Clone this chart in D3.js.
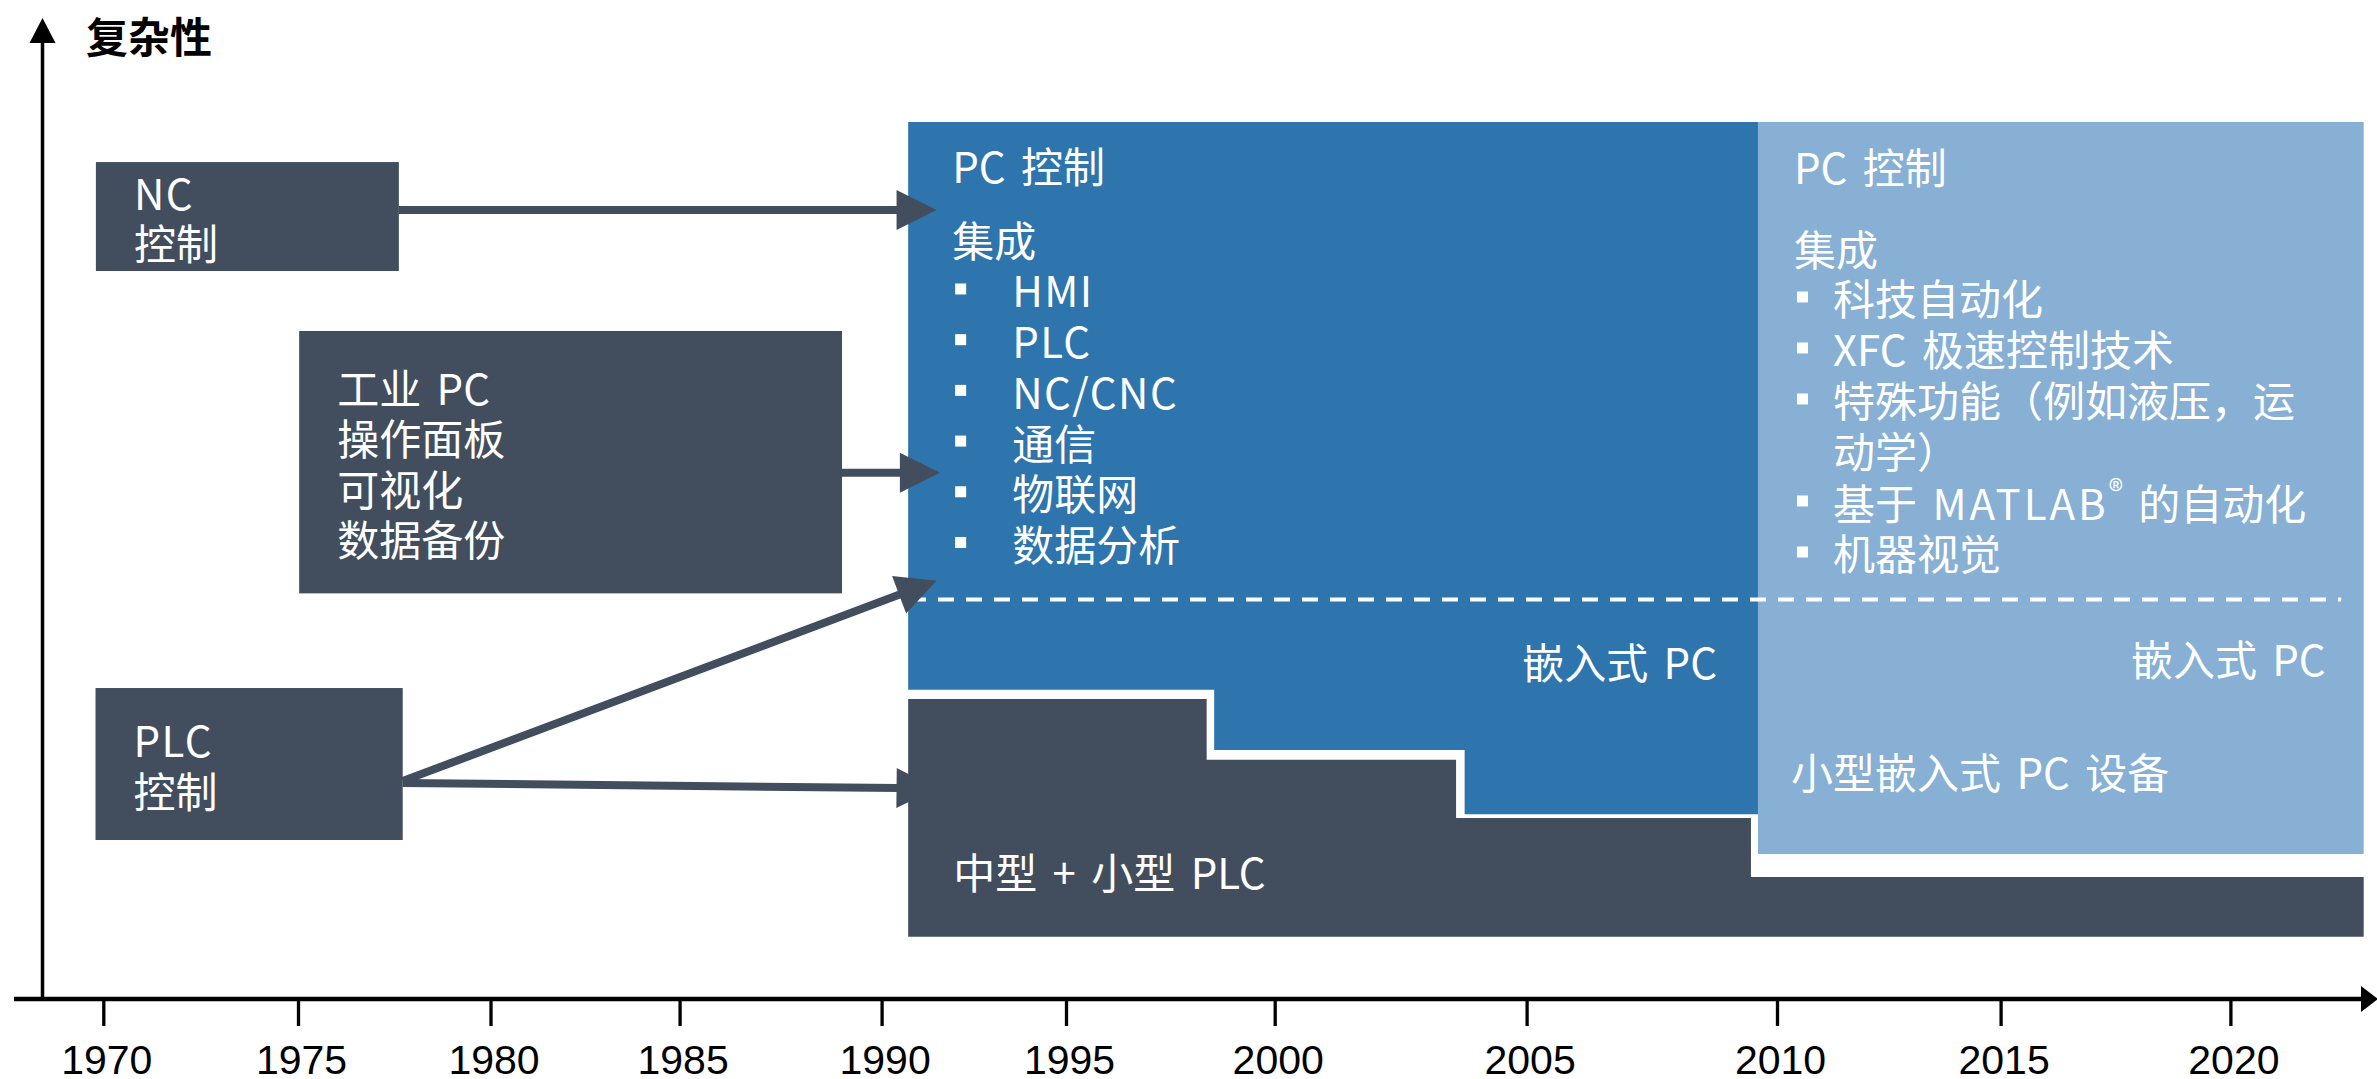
<!DOCTYPE html>
<html>
<head>
<meta charset="utf-8">
<script src="https://cdn.jsdelivr.net/npm/d3@7"></script>
<style>
  html, body { margin: 0; padding: 0; background: #ffffff; }
  svg { display: block; }
</style>
</head>
<body>
<script>
// ================= DATA =================
// x axis: years (tick labels)
const tickYears  = [1970, 1975, 1980, 1985, 1990, 1995, 2000, 2005, 2010, 2015, 2020];
const tickLabels = tickYears.map(String);

// y axis: "complexity" (0 = axis, 100 = top of axis)
const axisTitle = "复杂性";

// origin technologies (left boxes): time span and complexity span
const originNames  = ["nc", "ipc", "plc"];
const originStart  = [1969.81, 1975.03, 1969.80];
const originEnd    = [1977.62, 1989.02, 1977.72];
const originTop    = [85.30, 68.06, 31.63];
const originBottom = [74.18, 41.29, 16.12];
const originLines  = [["NC", "控制"], ["工业 PC", "操作面板", "可视化", "数据备份"], ["PLC", "控制"]];

// PC control era (dark blue): step outline of lower edge
const pcYears   = [1990.72, 1998.55, 2003.77, 2009.62];
const pcBottom  = [31.45, 25.31, 18.74, 18.74];
const pcTop     = 89.39;

// PC control era 2 (light blue)
const pc2Start = 2009.62, pc2End = 2022.90, pc2Top = 89.39, pc2Bottom = 14.69;

// PLC era (grey): step outline of upper edge
const plcYears  = [1990.72, 1998.37, 2003.60, 2009.48, 2022.90];
const plcTop    = [30.51, 24.32, 18.37, 12.35, 12.35];
const plcBottom = 6.24;

// dashed separator (PC / embedded PC)
const dashFrom = 1990.77, dashTo = 2022.41, dashLevel = 40.66;

// arrows: [fromYear, fromComplexity, toYear, toComplexity]
const arrowsData = [
  [1977.62, 80.41, 1991.49, 80.41],
  [1989.02, 53.60, 1991.58, 53.60],
  [1977.72, 22.14, 1991.49, 42.58],
  [1977.72, 21.94, 1991.49, 21.38]
];

// texts in eras
const pcHeader   = "PC 控制";
const pcGroup    = "集成";
const pcItems    = ["HMI", "PLC", "NC/CNC", "通信", "物联网", "数据分析"];
const pc2Items   = [["科技自动化"], ["XFC 极速控制技术"], ["特殊功能（例如液压，运", "动学）"], ["基于 ", "MATLAB", "®", " 的自动化"], ["机器视觉"]];
const embeddedLabel = "嵌入式 PC";
const smallEmbeddedLabel = "小型嵌入式 PC 设备";
const plcLabel   = "中型 + 小型 PLC";

// ================= LAYOUT / STYLE =================
const W = 2377, H = 1079;
const xRange = [103.3, 298, 490.5, 679.6, 881.6, 1066, 1274.7, 1526.6, 1777, 2000.6, 2230.4];
const axisY = 999, axisX = 42.5;
const C_GREY = "#424e5e", C_BLUE = "#2e75ad", C_LIGHT = "#87b0d4";
const CJK = "'Noto Sans CJK SC', 'Noto Sans', sans-serif";
const FS = 42;

const x = d3.scaleLinear().domain(tickYears).range(xRange);
const y = d3.scaleLinear().domain([0, 100]).range([998, 18]);

const svg = d3.select("body").append("svg")
  .attr("width", W).attr("height", H)
  .attr("viewBox", `0 0 ${W} ${H}`);

// ---- origin boxes ----
const gBoxes = svg.append("g");
originNames.forEach((n, i) => {
  const x0 = x(originStart[i]), x1 = x(originEnd[i]);
  const y0 = y(originTop[i]), y1 = y(originBottom[i]);
  gBoxes.append("rect")
    .attr("x", x0).attr("y", y0)
    .attr("width", x1 - x0).attr("height", y1 - y0)
    .attr("fill", C_GREY);
});

// ---- PC era (dark blue) ----
const pcArea = d3.area()
  .x(d => x(d[0]))
  .y0(d => y(d[1]))
  .y1(() => y(pcTop))
  .curve(d3.curveStepAfter);
svg.append("path")
  .datum(pcYears.map((yr, i) => [yr, pcBottom[i]]))
  .attr("d", pcArea)
  .attr("fill", C_BLUE);

// ---- PC era 2 (light blue) ----
svg.append("rect")
  .attr("x", x(pc2Start)).attr("y", y(pc2Top))
  .attr("width", x(pc2End) - x(pc2Start))
  .attr("height", y(pc2Bottom) - y(pc2Top))
  .attr("fill", C_LIGHT);

// ---- PLC era (grey) ----
const plcArea = d3.area()
  .x(d => x(d[0]))
  .y0(() => y(plcBottom))
  .y1(d => y(d[1]))
  .curve(d3.curveStepAfter);
svg.append("path")
  .datum(plcYears.map((yr, i) => [yr, plcTop[i]]))
  .attr("d", plcArea)
  .attr("fill", C_GREY);

// ---- dashed separator ----
svg.append("line")
  .attr("x1", x(dashFrom)).attr("x2", x(dashTo))
  .attr("y1", y(dashLevel)).attr("y2", y(dashLevel))
  .attr("stroke", "#ffffff").attr("stroke-width", 4)
  .attr("stroke-dasharray", "16 12");

// ---- arrows ----
function arrow(g, x1, y1, x2, y2, color, width, headLen, headHalf) {
  const dx = x2 - x1, dy = y2 - y1, L = Math.hypot(dx, dy);
  const ux = dx / L, uy = dy / L;
  const bx = x2 - ux * headLen, by = y2 - uy * headLen;
  g.append("line")
    .attr("x1", x1).attr("y1", y1)
    .attr("x2", bx + ux * 2).attr("y2", by + uy * 2)
    .attr("stroke", color).attr("stroke-width", width);
  g.append("path")
    .attr("d", `M${x2},${y2}L${bx - uy * headHalf},${by + ux * headHalf}L${bx + uy * headHalf},${by - ux * headHalf}Z`)
    .attr("fill", color);
}
const gArrows = svg.append("g");
arrowsData.forEach(a => {
  arrow(gArrows, x(a[0]), y(a[1]), x(a[2]), y(a[3]), C_GREY, 8, 40, 20);
});

// ---- texts ----
const gText = svg.append("g")
  .attr("font-family", CJK).attr("font-size", FS).attr("fill", "#ffffff")
  .attr("word-spacing", 6);

function addText(tx, ty, str, anchor) {
  const t = gText.append("text")
    .attr("x", tx).attr("y", ty)
    .attr("dominant-baseline", "central")
    .attr("text-anchor", anchor || "start")
    .text(str);
  if (str && /^[A-Za-z\/]+$/.test(str)) t.attr("letter-spacing", 1.5);
  return t;
}

// origin box labels
const LH = 50.5;
originNames.forEach((n, i) => {
  const x0 = x(originStart[i]);
  const cy = (y(originTop[i]) + y(originBottom[i])) / 2;
  const lines = originLines[i];
  lines.forEach((ln, j) => {
    addText(x0 + 38, cy + (j - (lines.length - 1) / 2) * LH, ln);
  });
});

// PC era (dark blue) list
{
  const left = x(pcYears[0]), top = y(pcTop);
  addText(left + 44, top + 43, pcHeader);
  addText(left + 44, top + 117, pcGroup);
  pcItems.forEach((it, i) => {
    const cy = top + 167 + i * 50.7;
    gText.append("rect").attr("x", left + 47).attr("y", cy - 5.5)
      .attr("width", 11).attr("height", 11).attr("fill", "#ffffff");
    addText(left + 104, cy, it);
  });
  addText(x(pcYears[pcYears.length - 1]) - 41, y(dashLevel) + 61, embeddedLabel, "end");
}

// PC era 2 (light blue) list
{
  const left = x(pc2Start), top = y(pc2Top);
  addText(left + 36, top + 44, pcHeader);
  addText(left + 36, top + 126, pcGroup);
  let row = 0;
  pc2Items.forEach((it, i) => {
    const cy = top + 175 + row * 51;
    gText.append("rect").attr("x", left + 39).attr("y", cy - 5.5)
      .attr("width", 11).attr("height", 11).attr("fill", "#ffffff");
    if (it.length === 4) {
      const t = addText(left + 75, cy, null);
      t.append("tspan").text(it[0]);
      t.append("tspan").attr("letter-spacing", 3).text(it[1]);
      t.append("tspan").attr("font-size", 30).attr("dy", -12).text(it[2]);
      t.append("tspan").attr("dy", 12).text(it[3]);
      row += 1;
    } else {
      it.forEach((ln, j) => {
        addText(left + 75, top + 175 + (row + j) * 51, ln);
      });
      row += it.length;
    }
  });
  addText(x(pc2End) - 38, y(dashLevel) + 58, embeddedLabel, "end");
  addText(left + 33, y(dashLevel) + 171, smallEmbeddedLabel);
}

// PLC era label
addText(x(plcYears[0]) + 45, y(plcBottom) - 66, plcLabel);

// ---- axes ----
const gAxis = svg.append("g").attr("transform", `translate(0,${axisY})`);
const xAxis = d3.axisBottom(x)
  .tickValues(tickYears)
  .tickFormat((d, i) => tickLabels[i])
  .tickSize(27)
  .tickPadding(19);
gAxis.call(xAxis);
gAxis.select(".domain").remove();
gAxis.selectAll(".tick line").attr("stroke", "#000").attr("stroke-width", 3.3);
gAxis.selectAll(".tick text")
  .attr("font-family", "Arial, 'Liberation Sans', sans-serif")
  .attr("font-size", 41)
  .attr("fill", "#000")
  .attr("dx", 3);

// x axis line with arrowhead
svg.append("line")
  .attr("x1", 14).attr("x2", 2364)
  .attr("y1", axisY).attr("y2", axisY)
  .attr("stroke", "#000").attr("stroke-width", 4.5);
svg.append("path")
  .attr("d", `M2378,${axisY}L2361,${axisY - 13}L2361,${axisY + 13}Z`)
  .attr("fill", "#000");

// y axis line with arrowhead
svg.append("line")
  .attr("x1", axisX).attr("x2", axisX)
  .attr("y1", axisY).attr("y2", y(100) + 22)
  .attr("stroke", "#000").attr("stroke-width", 3.5);
svg.append("path")
  .attr("d", `M${axisX},${y(100)}L${axisX - 13},${y(100) + 25}L${axisX + 13},${y(100) + 25}Z`)
  .attr("fill", "#000");

// axis title
svg.append("text")
  .attr("x", 86).attr("y", 34)
  .attr("dominant-baseline", "central")
  .attr("font-family", CJK)
  .attr("font-weight", 700)
  .attr("font-size", 42)
  .attr("fill", "#000")
  .text(axisTitle);
</script>
</body>
</html>
